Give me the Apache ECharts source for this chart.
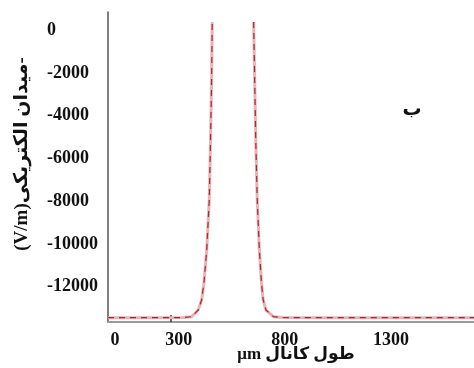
<!DOCTYPE html>
<html>
<head>
<meta charset="utf-8">
<script src="https://cdn.jsdelivr.net/npm/echarts@6/dist/echarts.min.js"></script>
<style>
html,body{margin:0;padding:0;background:#fff;}
#c{width:474px;height:368px;}
</style>
</head>
<body>
<div id="c"></div>
<script>
// Channel length (µm) positions and electric field (V/m) values
var xPositions = [-33, 0, 150, 320, 361, 392, 408, 419, 432, 444, 450, 455, 458,
                  560,
                  653, 658, 663, 670, 680, 690, 698, 711, 746, 791, 1000, 1691];
var fieldValues = [-13450, -13450, -13450, -13440, -13400, -13090, -12620, -11820, -10280, -7940, -5140, -2330, 380,
                   null,
                   380, -2330, -5140, -7940, -10280, -11820, -12620, -13090, -13400, -13440, -13450, -13450];
var xTickLabels = [0, 300, 800, 1300];
var yTickLabels = [0, -2000, -4000, -6000, -8000, -10000, -12000];
var xAxisTitle = 'μm طول کانال';
var yAxisTitle = '(V/m)میدان الکتریکی-';
var panelLabel = 'ب';

var seriesData = xPositions.map(function (x, i) { return [x, fieldValues[i]]; });
function plain(v) { return String(v); }

var fontFam = '"Liberation Serif", "DejaVu Serif", "DejaVu Sans", serif';
var chart = echarts.init(document.getElementById('c'), null, {renderer: 'canvas'});
chart.setOption({
  animation: false,
  backgroundColor: '#ffffff',
  grid: {left: 108, right: 0, top: 12, bottom: 46, containLabel: false},
  xAxis: {
    type: 'value',
    min: -33, max: 1691,
    splitLine: {show: false},
    axisLine: {show: true, onZero: false, lineStyle: {color: '#9a9a9a', width: 2}},
    axisTick: {show: true, inside: true, length: 7, customValues: [264], lineStyle: {color: '#333', width: 1.5}},
    axisLabel: {
      customValues: xTickLabels,
      formatter: plain,
      margin: 9,
      color: '#111',
      fontFamily: fontFam,
      fontWeight: 'bold',
      fontSize: 18
    }
  },
  yAxis: {
    type: 'value',
    min: -13650, max: 850,
    splitLine: {show: false},
    axisLine: {show: true, onZero: false, lineStyle: {color: '#555', width: 1.5}},
    axisTick: {show: false},
    axisLabel: {
      customValues: yTickLabels,
      formatter: plain,
      align: 'left',
      margin: 61,
      color: '#111',
      fontFamily: fontFam,
      fontWeight: 'bold',
      fontSize: 18
    }
  },
  series: [
    {
      type: 'line',
      data: seriesData,
      showSymbol: false,
      connectNulls: false,
      lineStyle: {color: '#e6b3b7', width: 3},
      z: 2
    },
    {
      type: 'line',
      data: seriesData,
      showSymbol: false,
      connectNulls: false,
      lineStyle: {color: '#a8282e', width: 1.2, type: [6, 5]},
      z: 3
    }
  ],
  graphic: [
    {
      type: 'text',
      x: 22, y: 154,
      rotation: Math.PI / 2,
      style: {
        text: yAxisTitle,
        fill: '#111',
        font: 'bold 19px ' + fontFam,
        align: 'center',
        verticalAlign: 'middle'
      }
    },
    {
      type: 'text',
      x: 296, y: 355,
      style: {
        text: xAxisTitle,
        fill: '#111',
        font: 'bold 17px ' + fontFam,
        align: 'center',
        verticalAlign: 'middle'
      }
    },
    {
      type: 'text',
      x: 412, y: 110,
      style: {
        text: panelLabel,
        fill: '#111',
        font: 'bold 19px ' + fontFam,
        align: 'center',
        verticalAlign: 'middle'
      }
    }
  ]
});
</script>
</body>
</html>
